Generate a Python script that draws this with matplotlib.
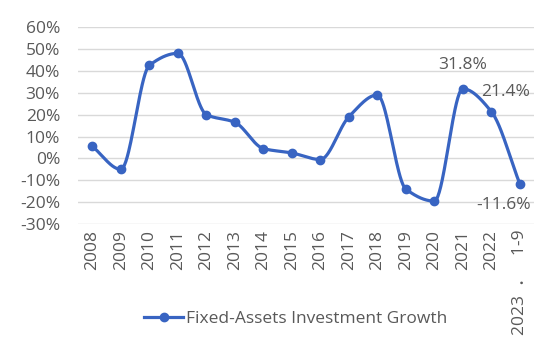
import numpy as np
import matplotlib
matplotlib.use("Agg")
import matplotlib.pyplot as plt
from matplotlib.lines import Line2D

categories = ["2008", "2009", "2010", "2011", "2012", "2013", "2014", "2015",
              "2016", "2017", "2018", "2019", "2020", "2021", "2022", "2023  ．   1-9"]
growth = [5.5, -5.0, 42.5, 48.0, 20.0, 16.5, 4.5, 2.5,
          -0.5, 19.0, 29.0, -14.0, -19.5, 31.8, 21.4, -11.6]
yticks = [-30, -20, -10, 0, 10, 20, 30, 40, 50, 60]
label_points = {13: "31.8%", 14: "21.4%", 15: "-11.6%"}

plt.rcParams['font.family'] = ['Open Sans', 'Noto Sans CJK SC', 'DejaVu Sans']

color = '#3864C2'
text_color = '#595959'
fs = 12.5

fig = plt.figure(figsize=(5.5, 3.38), dpi=100)
ax = fig.add_axes([0.142, 0.337, 0.829, 0.583])

x = np.arange(len(categories)).astype(float)
y = np.array(growth, dtype=float)

# Monotone cubic (Fritsch-Carlson) smoothing
def pchip(xp, yp, n=40):
    h = np.diff(xp)
    d = np.diff(yp) / h
    m = np.zeros_like(yp)
    m[0], m[-1] = d[0], d[-1]
    for k in range(1, len(yp)-1):
        if d[k-1]*d[k] <= 0:
            m[k] = 0.0
        else:
            w1 = 2*h[k] + h[k-1]
            w2 = h[k] + 2*h[k-1]
            m[k] = (w1 + w2) / (w1/d[k-1] + w2/d[k])
    xs, ys = [], []
    for k in range(len(xp)-1):
        t = np.linspace(0, 1, n, endpoint=False)
        h00 = 2*t**3 - 3*t**2 + 1
        h10 = t**3 - 2*t**2 + t
        h01 = -2*t**3 + 3*t**2
        h11 = t**3 - t**2
        xs.extend(xp[k] + t*h[k])
        ys.extend(h00*yp[k] + h10*h[k]*m[k] + h01*yp[k+1] + h11*h[k]*m[k+1])
    xs.append(xp[-1]); ys.append(yp[-1])
    return np.array(xs), np.array(ys)

sx, sy = pchip(x, y)
ax.plot(sx, sy, color=color, lw=2.3, solid_capstyle='round', zorder=3)
ax.plot(x, y, 'o', color=color, ms=6, zorder=4)

ax.set_xlim(-0.5, len(categories)-0.5)
ax.set_ylim(-30, 60)
ax.set_yticks(yticks)
ax.set_yticklabels([f"{v}%" for v in yticks])
ax.set_xticks(x)
ax.set_xticklabels(categories, rotation=90)
ax.grid(axis='y', color='#D9D9D9', lw=1)
ax.set_axisbelow(True)
for s in ax.spines.values():
    s.set_visible(False)
ax.tick_params(axis='y', length=0, labelsize=fs, colors=text_color, pad=13)
ax.tick_params(axis='x', length=0, labelsize=fs, colors=text_color, pad=4)
for lab in ax.get_xticklabels():
    lab.set_va('top')

offsets = {13: (0, 17, 'center', 'center'), 14: (10, 14, 'center', 'center'),
           15: (-12, -15, 'center', 'center')}
for i, txt in label_points.items():
    dx, dy, ha, va = offsets[i]
    ax.annotate(txt, (x[i], y[i]), xytext=(dx, dy), textcoords='offset points',
                ha=ha, va=va, fontsize=fs, color=text_color)

h = Line2D([], [], color=color, lw=2.3, marker='o', ms=6)
fig.legend([h], ["Fixed-Assets Investment Growth"], loc='center', bbox_to_anchor=(0.538, 0.057),
           frameon=False, fontsize=fs, labelcolor=text_color, handlelength=2.2, handletextpad=0.2)

fig.savefig("out.png", dpi=100)
